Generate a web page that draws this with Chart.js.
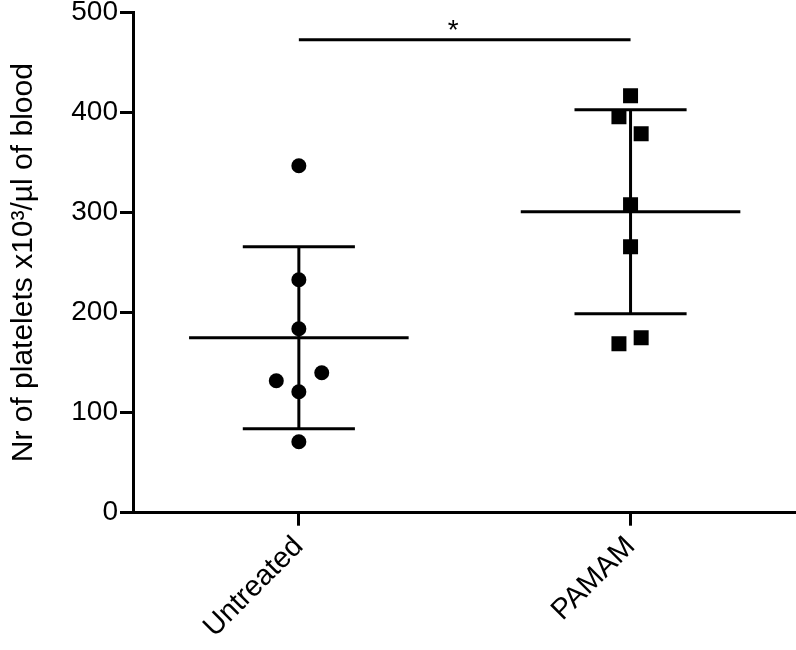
<!DOCTYPE html>
<html>
<head>
<meta charset="utf-8">
<script src="https://cdn.jsdelivr.net/npm/chart.js@4/dist/chart.umd.min.js"></script>
<style>
  html, body { margin: 0; padding: 0; background: #fff; overflow: hidden; }
  #wrap { width: 900px; height: 650px; }
</style>
</head>
<body>
<div id="wrap"><canvas id="plaquetasChart" width="796" height="650"></canvas></div>
<script>
// Dados
const categories = ['Untreated', 'PAMAM'];
const untreatedX = [1, 1, 1, 0.932, 1.069, 1, 1];
const untreatedY = [347, 233, 184, 132, 140, 121, 71];
const pamamX = [2, 1.965, 2.032, 2, 2, 1.965, 2.032];
const pamamY = [417, 396, 379, 308, 266, 169, 175];
const means = [175, 301];
const sds = [91, 102];
const yTicks = [0, 100, 200, 300, 400, 500];
const sigLevel = 473;
const sigLabel = '*';

const meanHalf = 0.331;
const capHalf = 0.169;

// linhas de média e desvio padrão
const segmentos = [];
categories.forEach(function (c, i) {
    const cx = i + 1;
    const m = means[i], s = sds[i];
    segmentos.push([{ x: cx - meanHalf, y: m }, { x: cx + meanHalf, y: m }]);
    segmentos.push([{ x: cx, y: m - s }, { x: cx, y: m + s }]);
    segmentos.push([{ x: cx - capHalf, y: m + s }, { x: cx + capHalf, y: m + s }]);
    segmentos.push([{ x: cx - capHalf, y: m - s }, { x: cx + capHalf, y: m - s }]);
});
segmentos.push([{ x: 1, y: sigLevel }, { x: 2, y: sigLevel }]);

const linhas = segmentos.map(function (seg) {
    return {
        type: 'scatter',
        data: seg,
        showLine: true,
        borderColor: '#000',
        borderWidth: 3,
        pointRadius: 0,
        order: 2
    };
});

const fonte = 'Arial, "Liberation Sans", sans-serif';

const asterisco = {
    id: 'asterisco',
    afterDatasetsDraw: function (chart) {
        const ctx = chart.ctx;
        const px = chart.scales.x.getPixelForValue(1.465);
        const py = chart.scales.y.getPixelForValue(sigLevel);
        ctx.save();
        ctx.fillStyle = '#000';
        ctx.font = '28px ' + fonte;
        ctx.textAlign = 'center';
        ctx.textBaseline = 'alphabetic';
        ctx.fillText(sigLabel, px, py - 1);
        ctx.restore();
    }
};

const grafico = new Chart(document.getElementById('plaquetasChart'), {
    type: 'scatter',
    data: {
        datasets: [
            {
                label: 'Untreated',
                data: untreatedX.map((x, i) => ({ x: x, y: untreatedY[i] })),
                pointStyle: 'circle',
                pointRadius: 7.5,
                backgroundColor: '#000',
                borderColor: '#000',
                borderWidth: 0,
                order: 1
            },
            {
                label: 'PAMAM',
                data: pamamX.map((x, i) => ({ x: x, y: pamamY[i] })),
                pointStyle: 'rect',
                pointRadius: 10.6,
                backgroundColor: '#000',
                borderColor: '#000',
                borderWidth: 0,
                order: 1
            }
        ].concat(linhas)
    },
    options: {
        responsive: false,
        maintainAspectRatio: false,
        animation: false,
        layout: { padding: { top: 12.7, right: 0, left: 0, bottom: 0 } },
        plugins: {
            legend: { display: false },
            tooltip: { enabled: false }
        },
        scales: {
            x: {
                type: 'linear',
                min: 0.5,
                max: 2.5,
                afterBuildTicks: function (scale) {
                    scale.ticks = categories.map((c, i) => ({ value: i + 1 }));
                },
                afterFit: function (scale) {
                    scale.height = 137.3;
                },
                ticks: {
                    callback: function (v) { return categories[v - 1]; },
                    minRotation: 45,
                    maxRotation: 45,
                    color: '#000',
                    padding: 4,
                    font: { family: fonte, size: 29 }
                },
                grid: {
                    drawOnChartArea: false,
                    color: '#000',
                    lineWidth: 3,
                    tickLength: 13
                },
                border: { color: '#000', width: 3 }
            },
            y: {
                min: 0,
                max: 500,
                afterBuildTicks: function (scale) {
                    scale.ticks = yTicks.map(v => ({ value: v }));
                },
                afterFit: function (scale) {
                    scale.width = 133;
                    scale.paddingTop = 0;
                    scale.paddingBottom = 0;
                },
                ticks: {
                    color: '#000',
                    padding: 2,
                    font: { family: fonte, size: 28 }
                },
                grid: {
                    drawOnChartArea: false,
                    color: '#000',
                    lineWidth: 3,
                    tickLength: 13
                },
                border: { color: '#000', width: 3 },
                title: {
                    display: true,
                    text: 'Nr of platelets x10³/µl of blood',
                    color: '#000',
                    padding: { top: 6, bottom: 0 },
                    font: { family: fonte, size: 30 }
                }
            }
        }
    },
    plugins: [asterisco]
});

// o eixo x deve ir até a borda direita da imagem
const sobra = 796 - grafico.chartArea.right;
if (sobra > 0.5) {
    grafico.resize(Math.round(796 + sobra), 650);
}
</script>
</body>
</html>
